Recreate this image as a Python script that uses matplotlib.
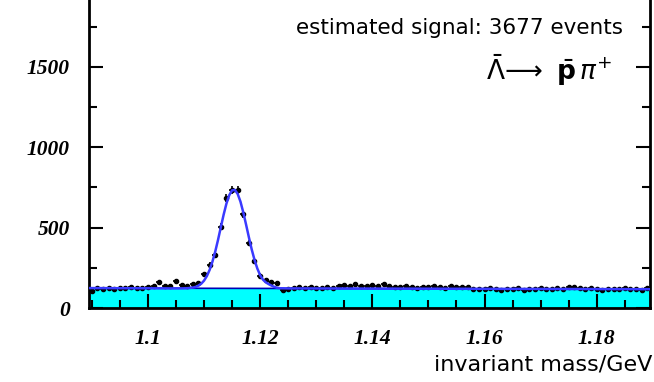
import numpy as np
import matplotlib
matplotlib.use("Agg")
import matplotlib.pyplot as plt
from matplotlib.ticker import MultipleLocator, FixedLocator

# bin centres (GeV), 1 MeV bins
bin_lo = 1.09
bin_w = 0.001
counts = [105, 122, 118, 125, 120, 127, 124, 129, 126, 123,
          130, 138, 160, 140, 135, 165, 145, 140, 148, 154,
          210, 268, 330, 506, 683, 735, 732, 583, 403, 292,
          201, 174, 164, 157, 112, 118, 125, 128, 122, 130,
          127, 124, 131, 126, 138, 142, 135, 148, 140, 136,
          145, 139, 150, 137, 132, 128, 135, 130, 126, 133,
          129, 136, 131, 127, 134, 130, 128, 132, 118, 121,
          116, 123, 119, 114, 120, 117, 122, 115, 121, 118,
          124, 116, 120, 126, 119, 128, 131, 122, 117, 125,
          119, 114, 121, 118, 116, 123, 117, 120, 115, 122]
centres = bin_lo + bin_w * np.arange(len(counts))

# fitted function (gaussian + linear background)
fit_x = [1.0895, 1.104, 1.106, 1.107, 1.108, 1.1085, 1.109, 1.1095, 1.110, 1.1105,
         1.111, 1.1115, 1.112, 1.1125, 1.113, 1.1135, 1.114, 1.1145, 1.115, 1.1155,
         1.116, 1.1165, 1.117, 1.1175, 1.118, 1.1185, 1.119, 1.1195, 1.120, 1.1205,
         1.121, 1.1215, 1.122, 1.1225, 1.123, 1.1235, 1.125, 1.1895]
fit_y = [124, 122, 122, 123, 127, 131, 139, 151, 170, 198,
         237, 288, 351, 424, 503, 581, 650, 702, 732, 735,
         710, 662, 595, 519, 440, 365, 300, 246, 205, 177,
         160, 149, 140, 132, 126, 123, 122, 117]

# background part of the fit
bg_x = [1.0895, 1.1895]
bg_y = [124, 117]

y_ticks = [0, 500, 1000, 1500]
signal_text = "estimated signal: 3677 events"
decay_text = r"$\bar{\Lambda}\!\longrightarrow\ \bar{\mathbf{p}}\,\pi^{+}$"

fig = plt.figure(figsize=(6.54, 3.82), dpi=100)
ax = fig.add_axes([89 / 654, 74 / 382, 561 / 654, 321.4 / 382])

ax.fill_between(bg_x, 0, bg_y, color="#00ffff", lw=0, zorder=1)
ax.plot(bg_x, bg_y, color="#0000b4", lw=1.2, zorder=2)
ax.errorbar(centres, counts, xerr=bin_w / 2, yerr=np.sqrt(counts), fmt="o",
            ms=3, color="black", elinewidth=1.2, capsize=0, zorder=3)
ax.plot(fit_x, fit_y, color="#3a3aff", lw=1.8, zorder=4)

ax.set_xlim(1.0895, 1.1895)
ax.set_ylim(0, 2000)

ax.xaxis.set_major_locator(MultipleLocator(0.02))
ax.xaxis.set_minor_locator(MultipleLocator(0.005))
ax.yaxis.set_major_locator(FixedLocator(y_ticks))
ax.yaxis.set_minor_locator(MultipleLocator(250))
ax.xaxis.set_major_formatter(plt.FuncFormatter(lambda v, p: f"{v:.2f}".rstrip("0")))
ax.tick_params(which="both", direction="in", top=False, right=True, width=1.5)
ax.tick_params(which="major", length=10)
ax.tick_params(which="minor", length=6)
ax.tick_params(axis="x", pad=15)
ax.tick_params(axis="y", pad=14)
for lab in ax.get_xticklabels() + ax.get_yticklabels():
    lab.set_family("Liberation Serif")
    lab.set_style("italic")
    lab.set_weight("bold")
    lab.set_fontsize(15.5)
for s in ax.spines.values():
    s.set_linewidth(2)

ax.text(1.1846, 1742, signal_text, ha="right", va="center",
        family="DejaVu Sans", fontsize=15.5)
ax.text(1.1827, 1481, decay_text, ha="right", va="center", fontsize=19)

fig.text(652 / 654, 1 - 365 / 382, "invariant mass/GeV", ha="right", va="center",
         family="DejaVu Sans", fontsize=16)

fig.savefig("out.png", dpi=100)
